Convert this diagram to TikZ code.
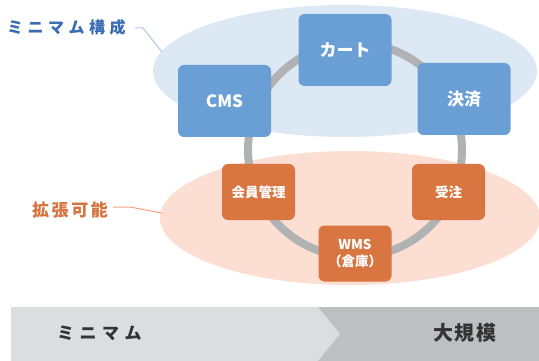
\documentclass[tikz,border=0pt]{standalone}
\usepackage{fontspec}
\setmainfont{Noto Sans CJK JP}
\definecolor{ellblue}{HTML}{DDE8F5}
\definecolor{ellorange}{HTML}{FCDED2}
\definecolor{boxblue}{HTML}{6A9FD6}
\definecolor{boxorange}{HTML}{D97541}
\definecolor{ringgrey}{HTML}{B1B2B4}
\definecolor{lblblue}{HTML}{3A6CB3}
\definecolor{lblorange}{HTML}{D5733E}
\definecolor{leadblue}{HTML}{A9C6E8}
\definecolor{leadorange}{HTML}{F2A283}
\definecolor{barlight}{HTML}{DCDDDE}
\definecolor{bardark}{HTML}{BEBFC1}
\definecolor{bartext}{HTML}{333333}
\begin{document}
\begin{tikzpicture}[x=1pt,y=-1pt,
  bluebox/.style={fill=boxblue,rounded corners=6pt,minimum width=93pt,minimum height=72pt,
    text=white,font=\fontsize{17}{20}\selectfont\bfseries,inner sep=0pt},
  orangebox/.style={fill=boxorange,rounded corners=6pt,minimum width=73pt,minimum height=56pt,
    text=white,font=\fontsize{13.5}{17}\selectfont\bfseries,inner sep=0pt,align=center},
  bartxt/.style={text=bartext,font=\fontsize{17}{20}\selectfont\bfseries,inner sep=0pt}]
\useasboundingbox (0,0) rectangle (539,361);
% ellipses
\fill[ellblue] (345,71) ellipse [x radius=192, y radius=66];
\fill[ellorange] (350,218) ellipse [x radius=190, y radius=67];
% ring
\node[draw=ringgrey,line width=8pt,circle,minimum size=214pt,inner sep=0pt] (ring) at (355,150) {};
% boxes
\node[bluebox] (cms) at (224.5,101) {CMS};
\node[bluebox] (cart) at (345,50) {カート};
\node[bluebox] (pay) at (464,99) {決済};
\node[orangebox] (member) at (258.5,192) {会員管理};
\node[orangebox] (order) at (448.5,192) {受注};
\node[orangebox] (wms) at (355,253.5) {WMS\\（倉庫）};
% labels
\node[anchor=west,inner sep=0pt,text=lblblue,font=\fontsize{16}{19}\selectfont\bfseries\addfontfeatures{LetterSpace=28}] (minlbl) at (7,27) {ミニマム構成};
\coordinate (minbend) at (143,28);
\coordinate (minend) at (162,52);
\draw[leadblue,line width=1pt] (135,28) -- (minbend) -- (minend);
\node[anchor=west,inner sep=0pt,text=lblorange,font=\fontsize{17}{20}\selectfont\bfseries\addfontfeatures{LetterSpace=15}] (extlbl) at (32,210) {拡張可能};
\coordinate (extbend) at (130,207);
\coordinate (extend) at (162,213);
\draw[leadorange,line width=1pt] (113,207) -- (extbend) -- (extend);
% bottom bar
\fill[barlight] (11,307) -- (318,307) -- (340,334) -- (318,361) -- (11,361) -- cycle;
\fill[bardark] (318,307) -- (539,307) -- (539,361) -- (318,361) -- (340,334) -- cycle;
\node[bartxt,anchor=west,font=\fontsize{17}{20}\selectfont\bfseries\addfontfeatures{LetterSpace=32}] (small) at (57,333) {ミニマム};
\node[bartxt,anchor=west,font=\fontsize{20}{24}\selectfont\bfseries\addfontfeatures{LetterSpace=8}] (large) at (433,333) {大規模};
\end{tikzpicture}
\end{document}
